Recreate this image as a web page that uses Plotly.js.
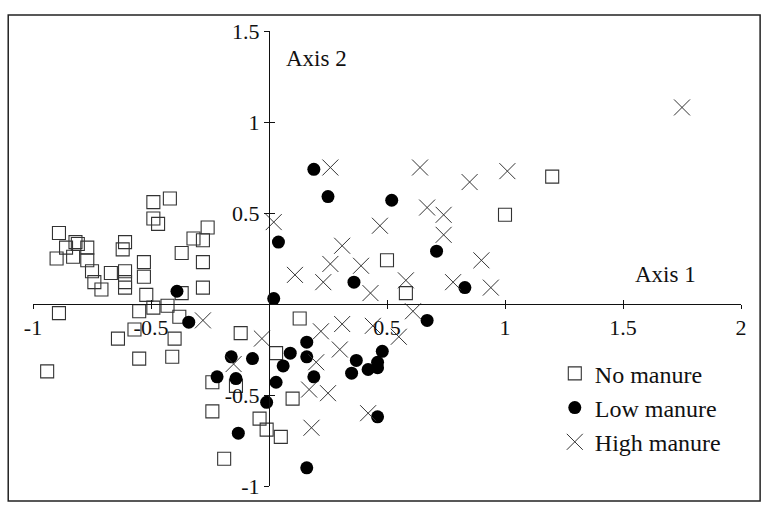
<!DOCTYPE html>
<html>
<head>
<meta charset="utf-8">
<script src="https://cdn.plot.ly/plotly-3.0.1.min.js"></script>
<style>html,body{margin:0;padding:0;background:#fff;}#chart{width:762px;height:505px;}</style>
</head>
<body>
<div id="chart"></div>
<script>
// Ordination scores
const noManureX = [-0.49,-0.42,-0.49,-0.47,-0.89,-0.86,-0.82,-0.81,-0.77,-0.90,-0.83,-0.77,-0.75,-0.74,-0.71,-0.67,-0.61,-0.61,-0.61,-0.61,-0.62,-0.53,-0.53,-0.52,-0.49,-0.43,-0.55,-0.37,-0.38,-0.26,-0.32,-0.28,-0.37,-0.28,-0.28,-0.89,-0.57,-0.64,-0.40,-0.55,-0.41,-0.94,-0.24,-0.12,0.13,0.03,-0.14,-0.24,-0.04,-0.01,0.05,-0.19,0.10,0.50,0.58,1.20,1.00];
const noManureY = [0.56,0.58,0.47,0.44,0.39,0.31,0.34,0.33,0.31,0.25,0.26,0.24,0.18,0.12,0.08,0.17,0.18,0.12,0.09,0.34,0.30,0.23,0.15,0.05,-0.02,-0.01,-0.04,0.06,-0.07,0.42,0.36,0.35,0.28,0.23,0.09,-0.05,-0.14,-0.19,-0.19,-0.30,-0.29,-0.37,-0.43,-0.16,-0.08,-0.27,-0.45,-0.59,-0.63,-0.69,-0.73,-0.85,-0.52,0.24,0.06,0.70,0.49];

const lowManureX = [0.19,0.25,0.04,0.02,-0.39,-0.34,0.52,0.71,0.36,0.83,0.16,0.09,0.16,0.06,-0.07,-0.16,-0.22,-0.14,0.03,-0.01,0.19,-0.13,0.16,0.67,0.48,0.37,0.35,0.42,0.46,0.46,0.46];
const lowManureY = [0.74,0.59,0.34,0.03,0.07,-0.10,0.57,0.29,0.12,0.09,-0.21,-0.27,-0.29,-0.34,-0.30,-0.29,-0.40,-0.41,-0.43,-0.54,-0.40,-0.71,-0.90,-0.09,-0.26,-0.31,-0.38,-0.36,-0.35,-0.32,-0.62];

const highManureX = [0.26,0.02,1.75,0.64,0.85,1.01,0.67,0.74,0.74,0.47,0.31,0.26,0.39,0.11,0.23,0.58,0.78,0.90,0.94,0.43,0.61,0.55,-0.28,-0.03,0.22,0.31,0.44,0.30,0.20,-0.15,0.17,0.25,0.18,0.42];
const highManureY = [0.75,0.45,1.08,0.75,0.67,0.73,0.53,0.49,0.38,0.43,0.32,0.22,0.21,0.16,0.12,0.13,0.12,0.24,0.09,0.06,-0.04,-0.18,-0.09,-0.19,-0.15,-0.11,-0.12,-0.25,-0.32,-0.33,-0.47,-0.49,-0.68,-0.60];

const seriesNames = ["No manure", "Low manure", "High manure"];
const xTicks = [-1, -0.5, 0.5, 1, 1.5, 2];
const xTickText = ["-1", "-0.5", "0.5", "1", "1.5", "2"];
const yTicks = [-1, -0.5, 0.5, 1, 1.5];
const yTickText = ["-1", "-0.5", "0.5", "1", "1.5"];
const xRange = [-1, 2];
const yRange = [-1, 1.5];

const FONT = "Liberation Serif, Times New Roman, serif";
const INK = "#111";

const traces = [
  {x: noManureX, y: noManureY, name: seriesNames[0], type: "scatter", mode: "markers",
   marker: {symbol: "square-open", size: 13, color: "#333", line: {width: 1.1, color: "#333"}}},
  {x: lowManureX, y: lowManureY, name: seriesNames[1], type: "scatter", mode: "markers",
   marker: {symbol: "circle", size: 13, color: "#000"}},
  {x: highManureX, y: highManureY, name: seriesNames[2], type: "scatter", mode: "markers",
   marker: {symbol: "x-thin-open", size: 16, color: "#333", line: {width: 1, color: "#333"}}},
  {x: [], y: [], xaxis: "x2", yaxis: "y2", showlegend: false, type: "scatter", mode: "markers", hoverinfo: "skip"}
];

const xPos = (0 - yRange[0]) / (yRange[1] - yRange[0]);
const yPos = (0 - xRange[0]) / (xRange[1] - xRange[0]);

const axBase = {showgrid: false, zeroline: false, fixedrange: true};

const layout = {
  width: 762, height: 505,
  margin: {l: 33, r: 21, t: 31, b: 19},
  paper_bgcolor: "#fff", plot_bgcolor: "rgba(0,0,0,0)",
  font: {family: FONT, color: INK, size: 22},
  showlegend: true,
  legend: {x: 0.737, y: 0.296, xanchor: "left", yanchor: "top", bgcolor: "rgba(0,0,0,0)",
           font: {family: FONT, size: 24, color: INK}, tracegroupgap: 0, itemsizing: "trace"},
  xaxis: Object.assign({}, axBase, {range: xRange, anchor: "free", position: xPos,
    showline: true, linecolor: INK, linewidth: 1, ticks: "outside", ticklen: 4, tickcolor: INK,
    tickvals: xTicks, ticktext: xTickText, tickfont: {family: FONT, size: 22, color: INK}}),
  yaxis: Object.assign({}, axBase, {range: yRange, anchor: "free", position: yPos,
    showline: true, linecolor: INK, linewidth: 1, ticks: "outside", ticklen: 5, tickcolor: INK,
    tickvals: yTicks, ticktext: yTickText, tickfont: {family: FONT, size: 22, color: INK}}),
  xaxis2: Object.assign({}, axBase, {range: xRange, overlaying: "x", anchor: "free", position: xPos,
    showline: false, ticks: "inside", ticklen: 4, tickcolor: INK, tickvals: xTicks, showticklabels: false}),
  yaxis2: Object.assign({}, axBase, {range: yRange, overlaying: "y", anchor: "free", position: yPos,
    showline: false, ticks: "inside", ticklen: 5, tickcolor: INK, tickvals: yTicks, showticklabels: false}),
  annotations: [
    {text: "Axis 1", xref: "x", yref: "y", x: 1.68, y: 0.16, showarrow: false,
     font: {family: FONT, size: 23, color: INK}},
    {text: "Axis 2", xref: "x", yref: "y", x: 0.2, y: 1.35, showarrow: false,
     font: {family: FONT, size: 23, color: INK}}
  ],
  shapes: [
    {type: "rect", xref: "paper", yref: "paper", x0: -0.035, x1: 1.027, y0: -0.033, y1: 1.035,
     line: {color: "#222", width: 1.5}, fillcolor: "rgba(0,0,0,0)"}
  ]
};

Plotly.newPlot("chart", traces, layout, {displayModeBar: false, staticPlot: true});
</script>
</body>
</html>
